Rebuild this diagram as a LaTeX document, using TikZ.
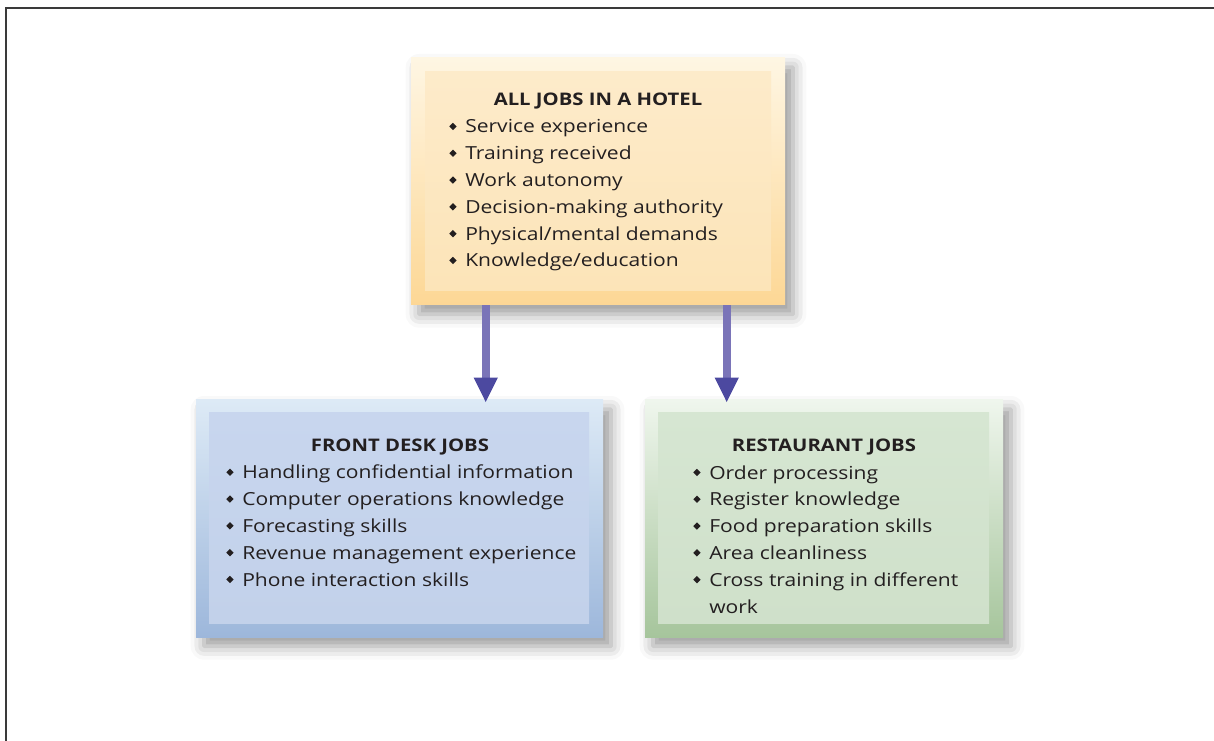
\documentclass[tikz,border=0pt]{standalone}
\usepackage{graphicx}
\usepackage{fontspec}
\setmainfont[FakeStretch=1.17]{Open Sans}
\usetikzlibrary{arrows.meta,calc,shadows.blur}
\definecolor{inkline}{HTML}{231F20}
\definecolor{frameline}{HTML}{3A3A3A}
\definecolor{hoteltop}{HTML}{FEF6E3}
\definecolor{hotelbot}{HTML}{FDD795}
\definecolor{hotelin}{HTML}{FDEBCA}
\definecolor{hotelinb}{HTML}{FCE4B8}
\definecolor{desktop}{HTML}{DDEAF6}
\definecolor{deskbot}{HTML}{9DB7DB}
\definecolor{deskin}{HTML}{C8D6EE}
\definecolor{deskinb}{HTML}{C2D1EA}
\definecolor{resttop}{HTML}{EFF6ED}
\definecolor{restbot}{HTML}{A6C59C}
\definecolor{restin}{HTML}{D6E6D2}
\definecolor{restinb}{HTML}{CFE0CA}
\definecolor{shaft}{HTML}{7A74B8}
\definecolor{arrowhd}{HTML}{4C49A0}
\newcommand{\itm}{\makebox[12pt][l]{\raisebox{0.3ex}{\rotatebox{45}{\rule{3.9pt}{3.9pt}}}}}

\begin{document}
\begin{tikzpicture}[
  x=0.75pt, y=-0.75pt,
  font=\fontsize{13.5pt}{20.1pt}\selectfont,
  outer/.style={inner sep=0pt, draw=none,
                blur shadow={shadow xshift=6pt, shadow yshift=-7pt,
                              shadow blur radius=10pt, shadow opacity=40}},
  panel/.style={inner sep=0pt, draw=none},
  ttl/.style={font=\fontsize{13pt}{15pt}\selectfont\bfseries, text=inkline,
              inner sep=0pt, anchor=base},
  lst/.style={align=left, text=inkline, inner sep=0pt, anchor=base west},
  arr/.style={draw=shaft, line width=6pt,
              -{Triangle[length=18.75pt, width=16.5pt, color=arrowhd]}},
]
\useasboundingbox (0,0) rectangle (1214,741);

% ---- frame ----
\draw[frameline, line width=1.6pt] (6,741) |- (1214,8);

% ---- boxes ----
\node[outer, top color=hoteltop, bottom color=hotelbot,
      minimum width=280.5pt, minimum height=185.25pt] (hotel) at (598,181.5) {};
\node[panel, top color=hotelin, bottom color=hotelinb,
      minimum width=259.5pt, minimum height=164.25pt] (hotelin) at (598,181.5) {};

\node[outer, top color=desktop, bottom color=deskbot,
      minimum width=305.25pt, minimum height=177.75pt] (desk) at (399.5,518.5) {};
\node[panel, top color=deskin, bottom color=deskinb,
      minimum width=285pt, minimum height=157.5pt] (deskin) at (399,518) {};

\node[outer, top color=resttop, bottom color=restbot,
      minimum width=268.5pt, minimum height=177.75pt] (rest) at (824,518.5) {};
\node[panel, top color=restin, bottom color=restinb,
      minimum width=248.25pt, minimum height=157.5pt] (restin) at (823.5,518) {};

% ---- texts (lists are placed by their last baseline) ----
\node[ttl] (hotelttl) at (598,106) {ALL JOBS IN A HOTEL};
\node[lst] (hotellst) at (449,267) {\itm Service experience\\
  \itm Training received\\
  \itm Work autonomy\\
  \itm Decision-making authority\\
  \itm Physical/mental demands\\
  \itm Knowledge/education};

\node[ttl] (deskttl) at (400,452) {FRONT DESK JOBS};
\node[lst] (desklst) at (226,586) {\itm Handling confidential information\\
  \itm Computer operations knowledge\\
  \itm Forecasting skills\\
  \itm Revenue management experience\\
  \itm Phone interaction skills};

\node[ttl] (restttl) at (824,451) {RESTAURANT JOBS};
\node[lst] (restlst) at (693,613) {\itm Order processing\\
  \itm Register knowledge\\
  \itm Food preparation skills\\
  \itm Area cleanliness\\
  \itm Cross training in different\\
  \hspace*{12pt}work};

% ---- arrows ----
\draw[arr] ($(hotel.south west)+(75,0)$) -- ($(desk.north west)+(290,3)$);
\draw[arr] ($(hotel.south west)+(316,0)$) -- ($(rest.north west)+(82,3)$);

\end{tikzpicture}
\end{document}
